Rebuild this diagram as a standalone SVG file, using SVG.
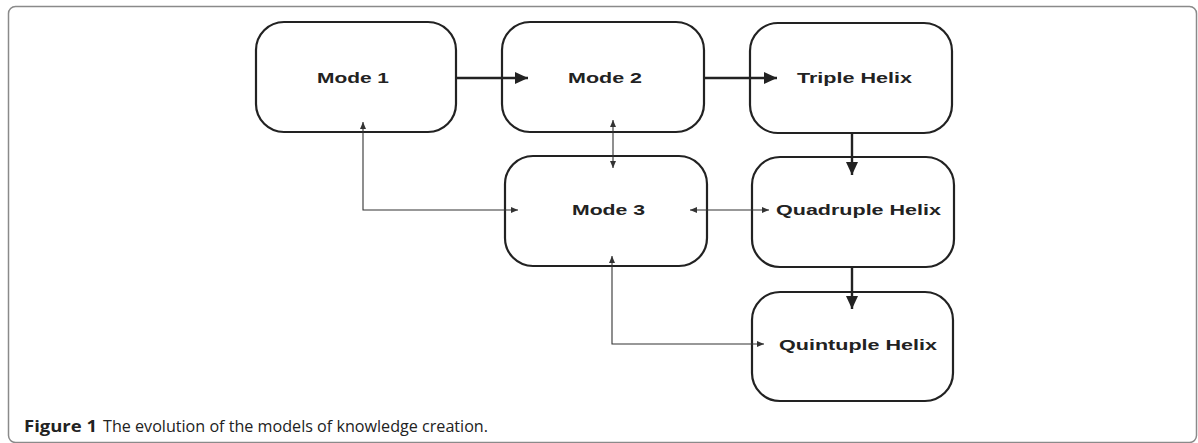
<svg xmlns="http://www.w3.org/2000/svg" width="1198" height="443" viewBox="0 0 1198 443">
<defs>
<style>
.frame{fill:#fff;stroke:#8a8a8a;stroke-width:1.5}
.box{fill:#fff;stroke:#222;stroke-width:2.2}
.lbl{font-family:"Liberation Sans",Arial,sans-serif;font-weight:bold;font-size:15.5px;fill:#222}
.thick{fill:none;stroke:#222;stroke-width:2.4}
.thin{fill:none;stroke:#333;stroke-width:1.1}
.cap{font-family:"Open Sans","Noto Sans",sans-serif;font-size:16px;fill:#222}
</style>
<marker id="big" markerUnits="userSpaceOnUse" markerWidth="13" markerHeight="12" refX="13" refY="6" orient="auto">
<path d="M0,0 L13,6 L0,12 z" fill="#222"/>
</marker>
<marker id="small" markerUnits="userSpaceOnUse" markerWidth="7" markerHeight="6" refX="7" refY="3" orient="auto-start-reverse">
<path d="M0,0 L7,3 L0,6 z" fill="#333"/>
</marker>
</defs>
<rect class="frame" x="8.5" y="6.5" width="1188" height="436" rx="7"/>
<g id="mode1"><rect class="box" x="256" y="22" width="200" height="110" rx="28"/><text class="lbl" x="317" y="83" textLength="72" lengthAdjust="spacingAndGlyphs">Mode 1</text></g>
<g id="mode2"><rect class="box" x="502" y="22" width="202" height="110" rx="28"/><text class="lbl" x="568" y="83" textLength="74" lengthAdjust="spacingAndGlyphs">Mode 2</text></g>
<g id="triple"><rect class="box" x="750" y="23" width="202" height="110" rx="28"/><text class="lbl" x="797" y="83" textLength="115" lengthAdjust="spacingAndGlyphs">Triple Helix</text></g>
<g id="mode3"><rect class="box" x="505" y="156" width="202" height="110" rx="28"/><text class="lbl" x="572" y="215" textLength="73" lengthAdjust="spacingAndGlyphs">Mode 3</text></g>
<g id="quadruple"><rect class="box" x="752" y="157" width="202" height="110" rx="28"/><text class="lbl" x="776" y="215" textLength="165" lengthAdjust="spacingAndGlyphs">Quadruple Helix</text></g>
<g id="quintuple"><rect class="box" x="752" y="292" width="201" height="109" rx="28"/><text class="lbl" x="779" y="350" textLength="158" lengthAdjust="spacingAndGlyphs">Quintuple Helix</text></g>
<g id="connectors">
<path class="thick" d="M456,78 H528" marker-end="url(#big)"/>
<path class="thick" d="M704,78 H777" marker-end="url(#big)"/>
<path class="thick" d="M852,133 V175" marker-end="url(#big)"/>
<path class="thick" d="M852,267 V309" marker-end="url(#big)"/>
<path class="thin" d="M363,122 V210 H518" marker-start="url(#small)" marker-end="url(#small)"/>
<path class="thin" d="M613,120 V168" marker-start="url(#small)" marker-end="url(#small)"/>
<path class="thin" d="M690,210 H769" marker-start="url(#small)" marker-end="url(#small)"/>
<path class="thin" d="M612,256 V344 H764" marker-start="url(#small)" marker-end="url(#small)"/>
</g>
<text class="cap" x="24" y="432" font-weight="bold" textLength="73" lengthAdjust="spacingAndGlyphs">Figure 1</text>
<text class="cap" x="103" y="432" font-weight="500" textLength="385" lengthAdjust="spacingAndGlyphs">The evolution of the models of knowledge creation.</text>
</svg>
